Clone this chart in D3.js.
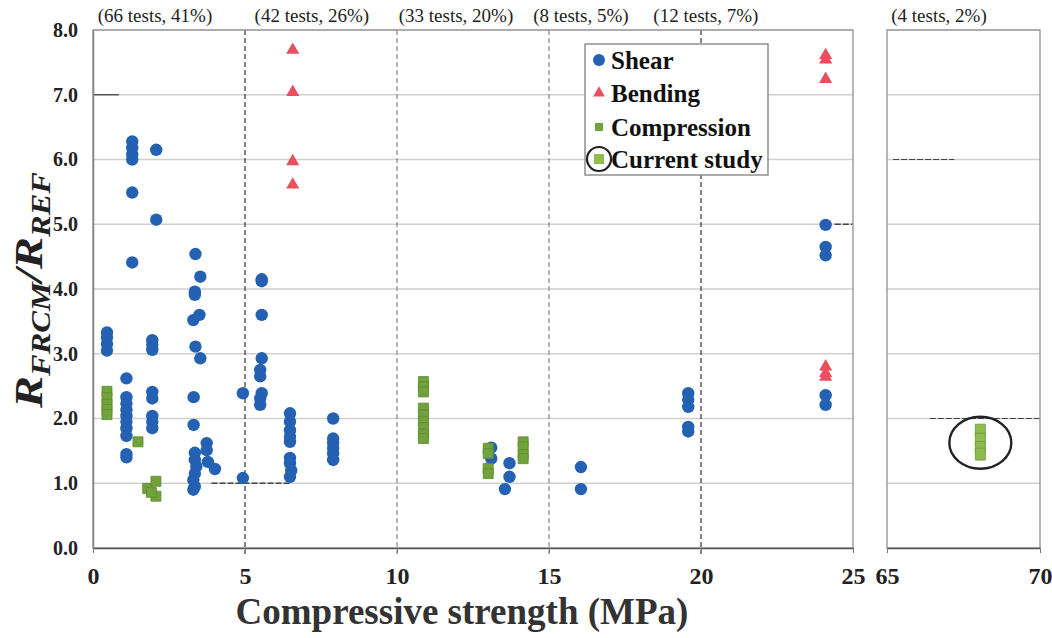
<!DOCTYPE html>
<html>
<head>
<meta charset="utf-8">
<script src="https://cdn.jsdelivr.net/npm/d3@7"></script>
<style>
  body { margin: 0; background: #fff; }
  svg { display: block; font-family: 'Liberation Serif', 'Times New Roman', serif; }
</style>
</head>
<body>
<div id="chart"></div>
<script>
// Data: [compressive strength (MPa), R_FRCM / R_REF]
const shear = [
  [0.46, 3.33], [0.46, 3.25], [0.46, 3.15], [0.46, 3.05],
  [1.10, 2.62], [1.10, 2.33], [1.10, 2.23], [1.10, 2.13], [1.10, 2.04], [1.10, 1.95],
  [1.10, 1.85], [1.10, 1.73], [1.10, 1.45], [1.10, 1.40],
  [1.29, 6.28], [1.29, 6.18], [1.29, 6.08], [1.29, 6.00], [1.29, 5.49], [1.29, 4.41],
  [1.95, 3.21], [1.95, 3.14], [1.95, 3.06], [1.95, 2.41], [1.95, 2.31], [1.95, 2.04],
  [1.95, 1.95], [1.95, 1.85],
  [2.08, 6.15], [2.08, 5.07],
  [3.37, 4.54], [3.53, 4.19], [3.35, 3.96], [3.35, 3.91], [3.30, 3.52], [3.50, 3.60],
  [3.37, 3.11], [3.53, 2.93], [3.31, 2.33], [3.31, 1.90],
  [3.35, 1.47], [3.35, 1.36], [3.40, 1.26], [3.35, 1.15], [3.30, 1.05], [3.35, 0.95], [3.30, 0.90],
  [3.74, 1.62], [3.74, 1.51], [3.78, 1.33], [4.01, 1.22],
  [4.93, 2.39], [4.93, 1.08],
  [5.55, 4.15], [5.55, 4.12], [5.55, 3.60], [5.55, 2.93], [5.50, 2.75], [5.50, 2.65],
  [5.55, 2.39], [5.50, 2.31], [5.50, 2.21],
  [6.48, 2.08], [6.48, 1.95], [6.48, 1.82], [6.48, 1.72], [6.48, 1.64], [6.48, 1.39],
  [6.48, 1.31], [6.52, 1.20], [6.48, 1.10],
  [7.90, 2.00], [7.90, 1.69], [7.90, 1.62], [7.90, 1.54], [7.90, 1.46], [7.90, 1.36],
  [13.10, 1.55], [13.10, 1.38], [13.70, 1.31], [13.70, 1.10], [13.55, 0.91],
  [16.05, 1.25], [16.05, 0.91],
  [19.58, 2.39], [19.58, 2.29], [19.58, 2.18], [19.58, 1.87], [19.58, 1.80],
  [24.10, 4.99], [24.10, 4.65], [24.10, 4.52], [24.10, 2.36], [24.10, 2.21]
];

const bending = [
  [6.57, 7.69], [6.57, 7.04], [6.57, 5.97], [6.57, 5.61],
  [24.10, 7.61], [24.10, 7.54], [24.10, 7.24], [24.10, 2.80], [24.10, 2.70], [24.10, 2.64]
];

const compression = [
  [0.46, 2.42], [0.46, 2.32], [0.46, 2.22], [0.46, 2.14], [0.46, 2.06],
  [1.48, 1.64], [1.80, 0.92], [2.07, 1.03], [2.07, 0.80], [1.92, 0.86],
  [10.87, 2.57], [10.87, 2.49], [10.87, 2.41], [10.87, 2.16], [10.87, 2.06],
  [10.87, 1.96], [10.87, 1.86], [10.87, 1.76], [10.87, 1.69],
  [13.00, 1.54], [13.00, 1.46], [13.00, 1.23], [13.00, 1.15],
  [14.15, 1.64], [14.15, 1.56], [14.15, 1.44], [14.15, 1.38]
];

const currentStudy = [[68.05, 1.82], [68.05, 1.68], [68.05, 1.55], [68.05, 1.45]];

// group labels over each strength band
const groupLabels = ['(66 tests, 41%)', '(42 tests, 26%)', '(33 tests, 20%)', '(8 tests, 5%)', '(12 tests, 7%)'];
const groupLabelX = [2.04, 7.2, 11.94, 16.05, 20.16];
const rightLabel = '(4 tests, 2%)';
const rightLabelX = 66.7;

const dividers = [5, 10, 15, 20];
const yTicks = [0, 1, 2, 3, 4, 5, 6, 7, 8];
const xTicksLeft = [0, 5, 10, 15, 20, 25];
const xTicksRight = [65, 70];

// short dark reference strokes drawn on the original figure
const refLeft = [[0, 0.85, 7.0], [3.9, 6.5, 1.0], [24.4, 25, 5.0]];
const refRight = [[65.2, 67.2, 6.0], [66.4, 70, 2.0]];

const W = 1052, H = 638;
const plotTop = 30, plotBottom = 548;

const BLUE = '#2461b3';
const RED = '#e9505d';
const GREEN = '#72a23c';
const GREEN_LIGHT = '#8fbb4f';

const svg = d3.select('#chart').append('svg').attr('width', W).attr('height', H);

const x = d3.scaleLinear().domain([0, 25]).range([93, 853]);
const x2 = d3.scaleLinear().domain([65, 70]).range([887, 1040]);
const y = d3.scaleLinear().domain([0, 8]).range([plotBottom, plotTop]);

// gridlines
[[93, 853], [887, 1040]].forEach(([a, b]) => {
  svg.append('g')
    .selectAll('line')
    .data(yTicks.slice(1))
    .join('line')
    .attr('x1', a).attr('x2', b)
    .attr('y1', (d) => y(d)).attr('y2', (d) => y(d))
    .attr('stroke', '#cfcfcf')
    .attr('stroke-width', 1.4);
});

// band dividers
svg.append('g')
  .selectAll('line')
  .data(dividers)
  .join('line')
  .attr('x1', (d) => x(d)).attr('x2', (d) => x(d))
  .attr('y1', plotTop).attr('y2', plotBottom + 6)
  .attr('stroke', (d) => (d === 5 || d === 20 ? '#333' : '#888'))
  .attr('stroke-width', 1.2)
  .attr('stroke-dasharray', '5,3');

// reference strokes
svg.append('g')
  .selectAll('line')
  .data(refLeft)
  .join('line')
  .attr('x1', (d) => x(d[0])).attr('x2', (d) => x(d[1]))
  .attr('y1', (d) => y(d[2])).attr('y2', (d) => y(d[2]))
  .attr('stroke', '#444')
  .attr('stroke-width', 1.3)
  .attr('stroke-dasharray', (d, i) => (i === 0 ? null : '6,2'));

svg.append('g')
  .selectAll('line')
  .data(refRight)
  .join('line')
  .attr('x1', (d) => x2(d[0])).attr('x2', (d) => x2(d[1]))
  .attr('y1', (d) => y(d[2])).attr('y2', (d) => y(d[2]))
  .attr('stroke', '#444')
  .attr('stroke-width', 1.2)
  .attr('stroke-dasharray', '6,2');

// panel frames
svg.append('rect').attr('x', 93).attr('y', plotTop).attr('width', 760).attr('height', plotBottom - plotTop)
  .attr('fill', 'none').attr('stroke', '#999').attr('stroke-width', 1.4);
svg.append('rect').attr('x', 887).attr('y', plotTop).attr('width', 153).attr('height', plotBottom - plotTop)
  .attr('fill', 'none').attr('stroke', '#999').attr('stroke-width', 1.4);

// axes
const tickFont = (g, size) => {
  g.select('.domain').attr('stroke', '#555').attr('stroke-width', 1.6);
  g.selectAll('.tick line').attr('stroke', '#777');
  g.selectAll('.tick text')
    .attr('font-family', "'Liberation Serif', serif")
    .attr('font-weight', 'bold')
    .attr('font-size', size)
    .attr('fill', '#222');
};

svg.append('g')
  .attr('transform', `translate(0,${plotBottom})`)
  .call(d3.axisBottom(x).tickValues(xTicksLeft).tickFormat(d3.format('d')).tickSize(5).tickSizeOuter(0).tickPadding(14))
  .call((g) => tickFont(g, 24));

svg.append('g')
  .attr('transform', `translate(0,${plotBottom})`)
  .call(d3.axisBottom(x2).tickValues(xTicksRight).tickFormat(d3.format('d')).tickSize(5).tickSizeOuter(0).tickPadding(14))
  .call((g) => tickFont(g, 24));

svg.append('g')
  .attr('transform', 'translate(93,0)')
  .call(d3.axisLeft(y).tickValues(yTicks).tickFormat(d3.format('.1f')).tickSize(0).tickPadding(15))
  .call((g) => tickFont(g, 20))
  .call((g) => g.select('.domain').attr('stroke', '#888'));

// group labels
svg.append('g')
  .selectAll('text')
  .data(groupLabels)
  .join('text')
  .attr('x', (d, i) => x(groupLabelX[i]))
  .attr('y', 22)
  .attr('text-anchor', 'middle')
  .attr('font-size', 19)
  .attr('fill', '#222')
  .text((d) => d);

svg.append('text')
  .attr('x', x2(rightLabelX)).attr('y', 22)
  .attr('text-anchor', 'middle')
  .attr('font-size', 19)
  .attr('fill', '#222')
  .text(rightLabel);

// marks
const tri = d3.symbol().type(d3.symbolTriangle).size(75);

svg.append('g')
  .selectAll('circle')
  .data(shear)
  .join('circle')
  .attr('cx', (d) => x(d[0]))
  .attr('cy', (d) => y(d[1]))
  .attr('r', 6.2)
  .attr('fill', BLUE);

svg.append('g')
  .selectAll('path')
  .data(compression)
  .join('path')
  .attr('transform', (d) => `translate(${x(d[0])},${y(d[1])})`)
  .attr('d', 'M-5,-5H5V5H-5Z')
  .attr('fill', GREEN)
  .attr('stroke', '#5d8a30')
  .attr('stroke-width', 0.8);

svg.append('g')
  .selectAll('path')
  .data(bending)
  .join('path')
  .attr('transform', (d) => `translate(${x(d[0])},${y(d[1])})`)
  .attr('d', tri)
  .attr('fill', RED);

svg.append('g')
  .selectAll('path')
  .data(currentStudy)
  .join('path')
  .attr('transform', (d) => `translate(${x2(d[0])},${y(d[1])})`)
  .attr('d', 'M-5,-6H5V6H-5Z')
  .attr('fill', GREEN_LIGHT)
  .attr('stroke', '#6d9a3a')
  .attr('stroke-width', 0.8);

svg.append('ellipse')
  .attr('cx', x2(d3.mean(currentStudy, (d) => d[0])))
  .attr('cy', y(d3.mean(currentStudy, (d) => d[1])))
  .attr('rx', 31).attr('ry', 26)
  .attr('fill', 'none')
  .attr('stroke', '#222')
  .attr('stroke-width', 2.4);

// legend
const legend = svg.append('g').attr('transform', 'translate(585,44)');
legend.append('rect').attr('width', 183).attr('height', 131)
  .attr('fill', '#fff').attr('stroke', '#888').attr('stroke-width', 1.4);

const legendItems = ['Shear', 'Bending', 'Compression', 'Current study'];
const rowY = [16, 49, 83, 115];
legendItems.forEach((name, i) => {
  const row = legend.append('g').attr('transform', `translate(14,${rowY[i]})`);
  if (i === 0) row.append('circle').attr('r', 6).attr('fill', BLUE);
  if (i === 1) row.append('path').attr('d', d3.symbol().type(d3.symbolTriangle).size(60)).attr('fill', RED);
  if (i === 2) row.append('rect').attr('x', -4).attr('y', -4).attr('width', 8).attr('height', 8).attr('fill', GREEN);
  if (i === 3) {
    row.append('rect').attr('x', -5).attr('y', -5).attr('width', 10).attr('height', 10).attr('fill', GREEN_LIGHT);
    row.append('circle').attr('r', 12).attr('fill', 'none').attr('stroke', '#222').attr('stroke-width', 2.2);
  }
  row.append('text')
    .attr('x', 12)
    .attr('dy', '0.35em')
    .attr('font-size', 25)
    .attr('font-weight', 'bold')
    .attr('fill', '#111')
    .text(name);
});

// axis titles
svg.append('text')
  .attr('x', 462).attr('y', 624)
  .attr('text-anchor', 'middle')
  .attr('font-size', 37)
  .attr('font-weight', 'bold')
  .attr('fill', '#333')
  .text('Compressive strength (MPa)');

// the original's rotated title reads longer than its glyph height suggests
const yt = svg.append('text')
  .attr('transform', 'translate(42,290) rotate(-90) scale(1.2,1)')
  .attr('text-anchor', 'middle')
  .attr('font-weight', 'bold')
  .attr('font-style', 'italic')
  .attr('fill', '#222');
yt.append('tspan').attr('font-size', 40).text('R');
yt.append('tspan').attr('font-size', 27).attr('dy', 8).text('FRCM');
yt.append('tspan').attr('font-size', 40).attr('dy', -8).text('/R');
yt.append('tspan').attr('font-size', 27).attr('dy', 8).text('REF');
</script>
</body>
</html>
